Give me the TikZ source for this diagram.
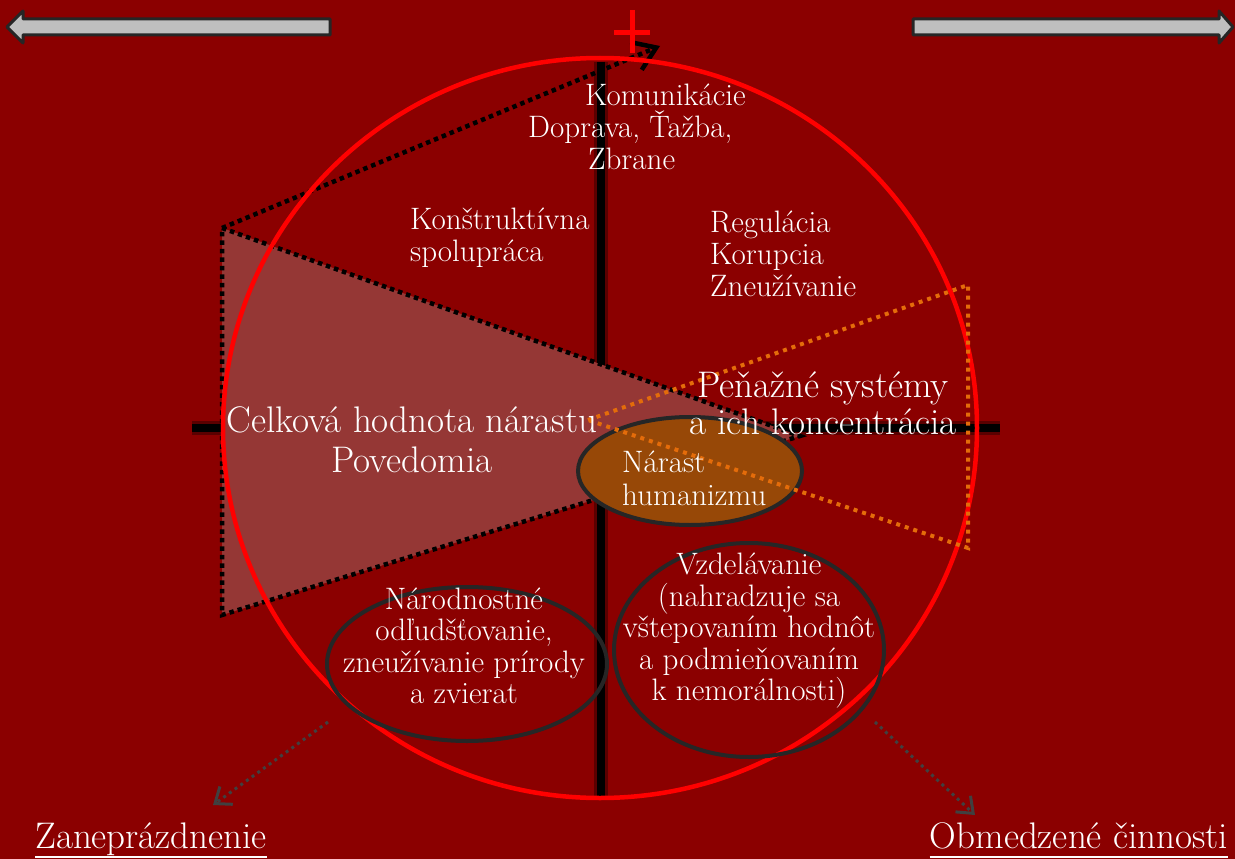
\documentclass[tikz,border=0pt]{standalone}
\usepackage{fontspec}
\usetikzlibrary{arrows.meta,shapes.geometric}
\definecolor{bg}{RGB}{139,0,0}
\definecolor{wedgefill}{RGB}{149,55,53}
\definecolor{darkline}{RGB}{38,38,38}
\definecolor{arrowgray}{RGB}{191,191,191}
\definecolor{orangeline}{RGB}{228,108,10}
\definecolor{brownfill}{RGB}{151,72,7}
\definecolor{dotgray}{RGB}{64,64,64}
\tikzset{
  txt/.style={text=white, inner sep=0pt, font=\fontsize{31}{32}\selectfont},
  bigtxt/.style={text=white, inner sep=0pt, font=\fontsize{37}{40}\selectfont},
  axisline/.style={line width=8pt, black},
  axisglow/.style={line width=14pt, black, opacity=0.35},
  blackdots/.style={black, line width=4.5pt, dash pattern=on 4.5pt off 4pt},
  orangedots/.style={orangeline, line width=4pt, dash pattern=on 4pt off 5pt},
  graydots/.style={dotgray, line width=3pt, dash pattern=on 3pt off 4pt},
  bigarrow/.style={draw=darkline, fill=arrowgray, line width=3pt, line join=round},
  ring/.style={ellipse, draw=darkline, line width=4pt, inner sep=0pt},
}
\begin{document}
\begin{tikzpicture}[x=1pt,y=-1pt]
\fill[bg] (0,0) rectangle (1235,859);
\useasboundingbox (0,0) rectangle (1235,859);

% top arrows
\draw[bigarrow] (330,19) -- (23,19) -- (23,11) -- (7,27) -- (23,43) -- (23,35) -- (330,35) -- cycle;
\draw[bigarrow] (913,19) -- (1219,19) -- (1219,11) -- (1233,27) -- (1219,43) -- (1219,35) -- (913,35) -- cycle;

% axes
\coordinate (vt) at (601,62);
\coordinate (vb) at (601,798);
\coordinate (hl) at (192,428);
\coordinate (hr) at (1000,428);
\draw[axisglow] (vt) -- (vb);
\draw[axisglow] (hl) -- (hr);
\draw[axisline] (vt) -- (vb);
\draw[axisline] (hl) -- (hr);

% pink wedge
\coordinate (w1) at (222,228);
\coordinate (w2) at (800,436);
\coordinate (w3) at (222,615);
\fill[wedgefill] (w1) -- (w2) -- (w3) -- cycle;
\draw[blackdots] (w1) -- (w2) -- (w3) -- cycle;
\coordinate (tiptop) at (660,46);
\draw[blackdots, -{Straight Barb[length=22pt,width=30pt]}] (w1) -- (tiptop);

% big circle
\draw[red, line width=4.5pt] (600,428) ellipse [x radius=377pt, y radius=370pt];

% plus sign
\draw[red, line width=5pt] (632,10) -- (632,53);
\draw[red, line width=5pt] (614,33) -- (650,33);

% brown ellipse
\node[ring, fill=brownfill, minimum width=224pt, minimum height=108pt] (hum) at (690,471) {};

% orange wedge
\coordinate (o1) at (588,420);
\coordinate (o2) at (968,285);
\coordinate (o3) at (968,548);
\draw[orangedots] (o1) -- (o2) -- (o3) -- cycle;

% bottom ellipses
\node[ring, minimum width=280pt, minimum height=154pt] (narod) at (467,664) {};
\node[ring, minimum width=270pt, minimum height=214pt] (vzdel) at (749,650) {};

% dotted gray arrows
\coordinate (la) at (328,722);
\coordinate (lb) at (213,805);
\coordinate (ra) at (875,722);
\coordinate (rb) at (975,815);
\draw[graydots, -{Straight Barb[length=14pt,width=22pt]}] (la) -- (lb);
\draw[graydots, -{Straight Barb[length=14pt,width=22pt]}] (ra) -- (rb);

% texts
\node[txt, align=left, anchor=west] (kom) at (528,127) {\hspace*{57pt}Komunikácie\\Doprava, Ťažba,\\\hspace*{60pt}Zbrane};
\node[txt, align=left, anchor=west] (konst) at (410,238) {Konštruktívna\\spolupráca};
\node[txt, align=left, anchor=west] (reg) at (710,254) {Regulácia\\Korupcia\\Zneužívanie};
\node[bigtxt, align=center, font=\fontsize{37}{37}\selectfont] (pen) at (823,403) {Peňažné systémy\\a ich koncentrácia};
\node[bigtxt, align=center] (celk) at (412,440) {Celková hodnota nárastu\\Povedomia};
\node[txt, align=left, anchor=west, font=\fontsize{31}{33}\selectfont] (humt) at (622,478) {Nárast\\humanizmu};
\node[txt, align=center, font=\fontsize{31}{31.5}\selectfont] (nart) at (464,646) {Národnostné\\odľudšťovanie,\\zneužívanie prírody\\a zvierat};
\node[txt, align=center, font=\fontsize{31}{31.5}\selectfont] (vzdt) at (749,631) {Vzdelávanie\\(nahradzuje sa\\vštepovaním hodnôt\\a podmieňovaním\\k nemorálnosti)};
\node[bigtxt, anchor=base west, font=\fontsize{37}{40}\selectfont] (zan) at (35,848) {Zaneprázdnenie};
\node[bigtxt, anchor=base east, font=\fontsize{37}{40}\selectfont] (obm) at (1228,848) {Obmedzené činnosti};
\draw[white, line width=2pt] (zan.west |- 0,857) -- (zan.east |- 0,857);
\draw[white, line width=2pt] (obm.west |- 0,857) -- (obm.east |- 0,857);
\end{tikzpicture}
\end{document}
